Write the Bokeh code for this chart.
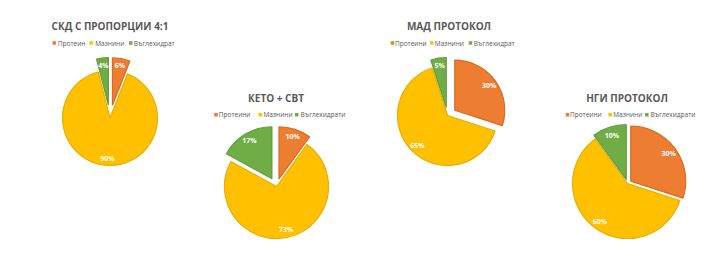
import math
from bokeh.plotting import figure
from bokeh.models import Range1d, ColumnDataSource
from bokeh.core.properties import value
from bokeh.embed import file_html
from bokeh.resources import INLINE

# ---------------- data ----------------
titles = ["СКД С ПРОПОРЦИИ 4:1", "КЕТО + СВТ", "МАД ПРОТОКОЛ", "НГИ ПРОТОКОЛ"]
legend_labels = [
    ["Протеин", "Мазнини", "Въглехидрат"],
    ["Протеини", "Мазнини", "Въглехидрати"],
    ["Протеини", "Мазнини", "Въглехидрат"],
    ["Протеини", "Мазнини", "Въглехидрати"],
]
protein = [6, 10, 30, 30]
fat = [90, 73, 65, 60]
carbs = [4, 17, 5, 10]

# ---------------- layout / style (pixel positions, top-left origin) ----------------
W, H = 720, 255
colors = ["#ED7D31", "#FFC000", "#70AD47"]
edge_colors = ["#D96B24", "#E9AE00", "#62A03B"]
text_gray = "#595959"

pie_centers = [(109.5, 117.5), (276.0, 186.0), (447.0, 115.0), (627.0, 183.0)]
pie_radii = [47.5, 52.0, 50.0, 55.0]
explode = [(13, 0, 13), (8, 0, 9), (9, 0, 8), (4, 0, 4)]
title_pos = [(109.5, 25.0), (275.5, 97.0), (448.5, 25.0), (626.5, 97.0)]
legend_sq_x = [(53.7, 90.7, 130.3), (215.5, 259.7, 296.2), (392.0, 431.3, 470.0), (567.0, 609.7, 646.3)]
legend_tx_x = [(57.3, 94.7, 133.3), (218.3, 263.0, 300.0), (394.5, 434.3, 473.3), (569.5, 612.7, 650.0)]
legend_y = [42.5, 114.3, 42.5, 114.3]
label_frac = 0.85

p = figure(width=W, height=H, x_range=Range1d(0, W), y_range=Range1d(0, H),
           output_backend="svg", toolbar_location=None, min_border=0,
           x_axis_location=None, y_axis_location=None)
p.grid.visible = False
p.outline_line_color = None
p.background_fill_color = "white"
p.border_fill_color = "white"

wx, wy, wr, ws, we, wf, wl = [], [], [], [], [], [], []
lx, ly, lt = [], [], []
for i in range(4):
    vals = [protein[i], fat[i], carbs[i]]
    total = float(sum(vals))
    cx, cy_pix = pie_centers[i]
    cy = H - cy_pix
    r = pie_radii[i]
    cum = 0.0
    for k, v in enumerate(vals):
        t0 = cum / total * 2 * math.pi
        cum += v
        t1 = cum / total * 2 * math.pi
        mid = (t0 + t1) / 2
        d = explode[i][k]
        sx = cx + d * math.sin(mid)
        sy = cy + d * math.cos(mid)
        wx.append(sx); wy.append(sy); wr.append(r)
        ws.append(math.pi / 2 - t1); we.append(math.pi / 2 - t0)
        wf.append(colors[k]); wl.append(edge_colors[k])
        lx.append(sx + label_frac * r * math.sin(mid))
        ly.append(sy + label_frac * r * math.cos(mid))
        lt.append(f"{v}%")

p.wedge(source=ColumnDataSource(dict(x=wx, y=wy, r=wr, s=ws, e=we, f=wf, l=wl)),
        x="x", y="y", radius="r", start_angle="s", end_angle="e",
        direction="anticlock", fill_color="f", line_color="l", line_width=1.2)

p.text(x=lx, y=ly, text=lt, text_font=value("Open Sans"), text_font_style="bold",
       text_font_size=value("7px"), text_color="white", text_align="center",
       text_baseline="middle")

# titles
p.text(x=[t[0] for t in title_pos], y=[H - t[1] for t in title_pos], text=titles,
       text_font=value("Open Sans"), text_font_style="bold", text_font_size=value("10px"),
       text_color=text_gray, text_align="center", text_baseline="middle")

# legends
sqx, sqy, sqc, tx, ty, tt = [], [], [], [], [], []
for i in range(4):
    for k in range(3):
        sqx.append(legend_sq_x[i][k]); sqy.append(H - legend_y[i]); sqc.append(colors[k])
        tx.append(legend_tx_x[i][k]); ty.append(H - legend_y[i]); tt.append(legend_labels[i][k])
p.scatter(x=sqx, y=sqy, marker="square", size=3.5, fill_color=sqc, line_color=None)
p.text(x=tx, y=ty, text=tt, text_font=value("Open Sans"), text_font_size=value("6.5px"),
       text_color=text_gray, text_align="left", text_baseline="middle")

open("out.html", "w").write(file_html(p, INLINE))
